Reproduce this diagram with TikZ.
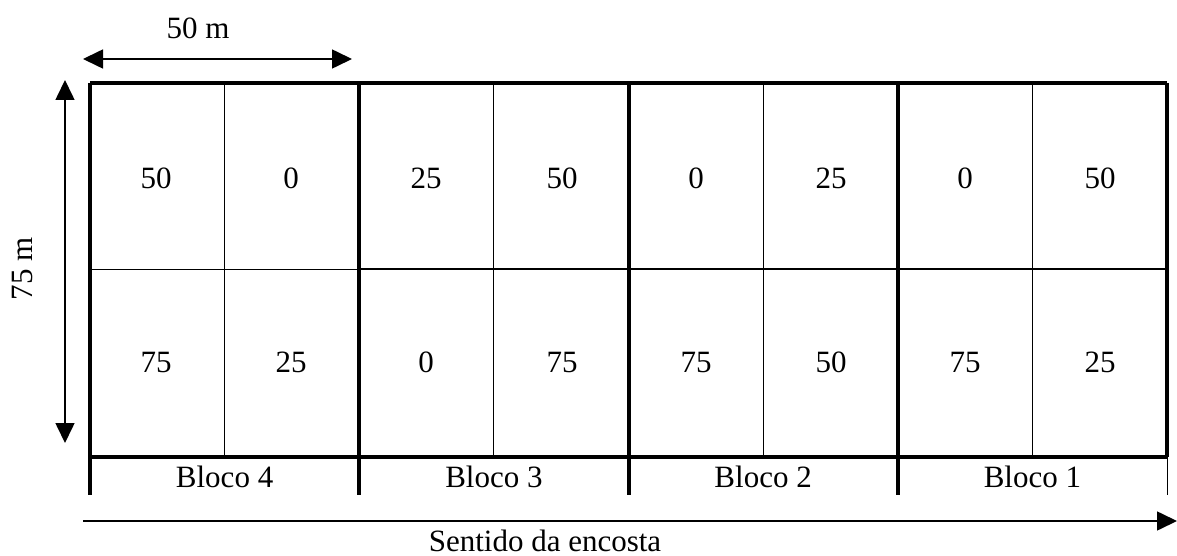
\documentclass[tikz,border=0pt]{standalone}
\usepackage{fontspec}
\setmainfont{Liberation Serif}
\usetikzlibrary{arrows.meta}
\begin{document}
\begin{tikzpicture}[x=1pt,y=-1pt,
  thickline/.style={line width=4pt},
  thinline/.style={line width=1pt},
  midline/.style={line width=2.2pt},
  dimarrow/.style={line width=1.6pt,-{Triangle[width=19pt,length=20pt]}},
  lbl/.style={font=\fontsize{31}{36}\selectfont,inner sep=0pt},
  every node/.style={lbl}]
\useasboundingbox (0,0) rectangle (1177,556);
% coordinates of grid
\foreach \i/\x in {0/90,1/359.25,2/628.5,3/897.75,4/1167}{
  \coordinate (T\i) at (\x,83);
  \coordinate (M\i) at (\x,269);
  \coordinate (B\i) at (\x,457);
  \coordinate (L\i) at (\x,495);
}
\foreach \i/\x in {0/224.6,1/493.9,2/763.1,3/1032.4}{
  \coordinate (tt\i) at (\x,83);
  \coordinate (tb\i) at (\x,457);
}
% thin inner verticals
\foreach \i in {0,1,2,3}{ \draw[thinline] (tt\i) -- (tb\i); }
% middle horizontals
\draw[thinline] (M0) -- (M1);
\draw[midline] (M1) -- (M4);
% outline and block lines
\draw[thickline] (T0) -- (T4);
\draw[thickline] (B0) -- (B4);
\draw[thickline] (T0) -- (L0);
\draw[thickline] (T1) -- (L1);
\draw[thickline] (T2) -- (L2);
\draw[thickline] (T3) -- (L3);
\draw[thickline] (T4) -- (B4);
\draw[thinline] (B4) -- (L4);
% values
\foreach \x/\a/\b in {156/50/75,291/0/25,426/25/0,562/50/75,696/0/75,831/25/50,965/0/75,1100/50/25}{
  \node (v\x a) at (\x,178) {\a};
  \node (v\x b) at (\x,362) {\b};
}
% block labels
\node (b4) at (224.6,477) {Bloco 4};
\node (b3) at (493.9,477) {Bloco 3};
\node (b2) at (763.1,477) {Bloco 2};
\node (b1) at (1032.4,477) {Bloco 1};
% dimension arrows
\coordinate (wa) at (83,59);
\coordinate (wb) at (352,59);
\draw[dimarrow,{Triangle[width=19pt,length=20pt]}-{Triangle[width=19pt,length=20pt]}] (wa) -- (wb);
\node (w) at (198,28) {50 m};
\coordinate (ha) at (65,80);
\coordinate (hb) at (65,443);
\draw[dimarrow,{Triangle[width=19pt,length=20pt]}-{Triangle[width=19pt,length=20pt]}] (ha) -- (hb);
\node[rotate=90] (h) at (23,269) {75 m};
% slope arrow
\coordinate (sa) at (83,521);
\coordinate (sb) at (1177,521);
\draw[dimarrow] (sa) -- (sb);
\node (s) at (545,541) {Sentido da encosta};
\end{tikzpicture}
\end{document}
